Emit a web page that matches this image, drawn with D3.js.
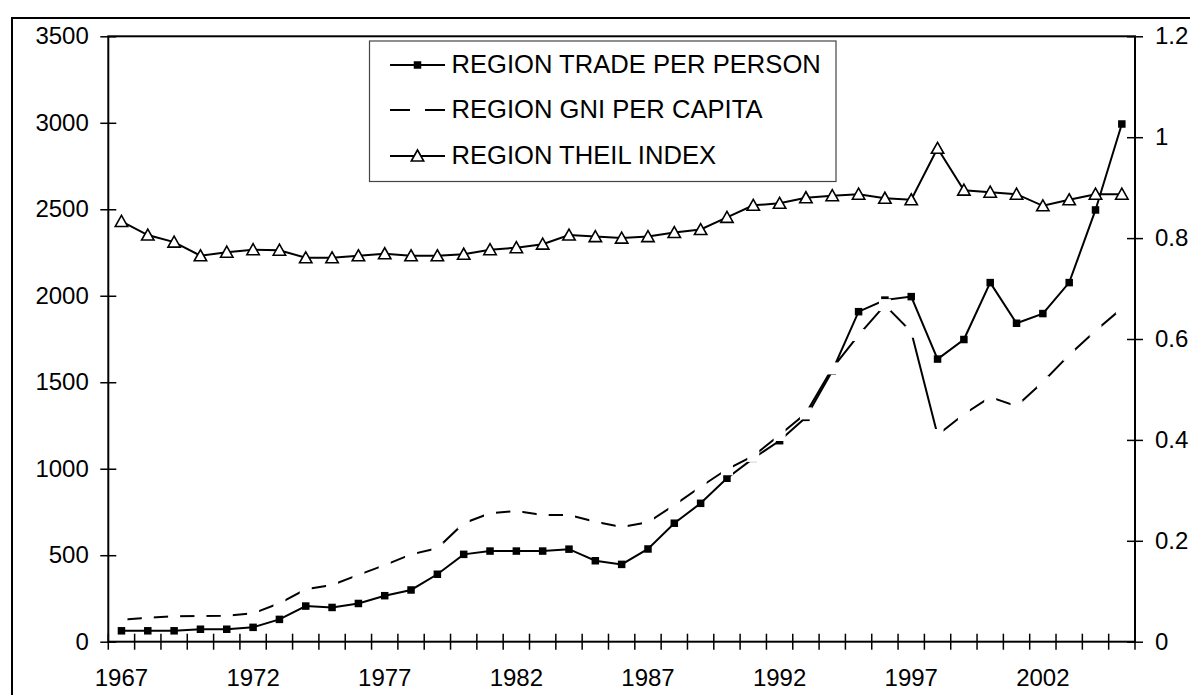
<!DOCTYPE html>
<html>
<head>
<meta charset="utf-8">
<script src="https://cdnjs.cloudflare.com/ajax/libs/d3/7.8.5/d3.min.js"></script>
<style>
  body { margin: 0; background: #fff; }
  svg { display: block; font-family: "Liberation Sans", Arial, sans-serif; }
</style>
</head>
<body>
<div id="chart"></div>
<script>
// data
var years = [1967, 1968, 1969, 1970, 1971, 1972, 1973, 1974, 1975, 1976,
             1977, 1978, 1979, 1980, 1981, 1982, 1983, 1984, 1985, 1986,
             1987, 1988, 1989, 1990, 1991, 1992, 1993, 1994, 1995, 1996,
             1997, 1998, 1999, 2000, 2001, 2002, 2003, 2004, 2005];
var tradePerPerson = [63, 63, 63, 72, 72, 83, 129, 206, 198, 221,
                      266, 299, 390, 505, 524, 524, 524, 535, 468, 447,
                      536, 685, 800, 945, 1060, 1162, 1297, 1565, 1908, 1975,
                      1995, 1634, 1747, 2076, 1841, 1897, 2076, 2496, 2993];
var gniPerCapita = [127, 139, 147, 149, 150, 164, 222, 303, 328, 386,
                    443, 505, 540, 685, 742, 756, 732, 732, 694, 663,
                    690, 790, 896, 997, 1074, 1195, 1320, 1580, 1773, 1946,
                    1792, 1195, 1315, 1414, 1362, 1501, 1658, 1798, 1927];
var theilIndex = [0.833, 0.806, 0.792, 0.765, 0.772, 0.777, 0.776, 0.761, 0.761, 0.765,
                  0.769, 0.765, 0.765, 0.768, 0.777, 0.781, 0.788, 0.806, 0.803, 0.800,
                  0.803, 0.811, 0.817, 0.841, 0.865, 0.869, 0.880, 0.884, 0.887, 0.879,
                  0.876, 0.978, 0.895, 0.891, 0.887, 0.864, 0.876, 0.887, 0.887];
var leftTicks = [0, 500, 1000, 1500, 2000, 2500, 3000, 3500];
var rightTicks = [0, 0.2, 0.4, 0.6, 0.8, 1, 1.2];
var xLabelYears = [1967, 1972, 1977, 1982, 1987, 1992, 1997, 2002];
var seriesNames = ['REGION TRADE PER PERSON', 'REGION GNI PER CAPITA', 'REGION THEIL INDEX'];

var W = 1190, H = 695;
var margin = {top: 36.3, left: 108.3, right: 55, bottom: 53.3};
var width = W - margin.left - margin.right,
    height = H - margin.top - margin.bottom;

var svg = d3.select('#chart')
  .append('svg')
  .attr('width', W)
  .attr('height', H);

// outer chart frame (cropped at right / bottom)
svg.append('rect')
  .attr('x', 12).attr('y', 18)
  .attr('width', 1400).attr('height', 900)
  .attr('fill', '#fff')
  .attr('stroke', '#000')
  .attr('stroke-width', 2);

var g = svg.append('g')
  .attr('transform', 'translate(' + margin.left + ',' + margin.top + ')');

var x = d3.scaleBand().domain(years).range([0, width]);
var xc = function(d) { return x(d) + x.bandwidth() / 2; };
var yL = d3.scaleLinear().domain([0, 3500]).range([height, 0]);
var yR = d3.scaleLinear().domain([0, 1.2]).range([height, 0]);

// plot area box
g.append('rect')
  .attr('width', width).attr('height', height)
  .attr('fill', 'none')
  .attr('stroke', '#000')
  .attr('stroke-width', 2);

// left axis
var left = g.append('g')
  .call(d3.axisLeft(yL).tickValues(leftTicks).tickSize(8).tickSizeOuter(0).tickFormat(d3.format('d')));
left.select('.domain').remove();
left.selectAll('line').attr('x1', 8).attr('stroke', '#000').attr('stroke-width', 1.5);
left.selectAll('text').attr('x', -19.5).attr('fill', '#000').style('font-size', '24px')
  .style('font-family', '"Liberation Sans", Arial, sans-serif');

// right axis
var right = g.append('g')
  .attr('transform', 'translate(' + width + ',0)')
  .call(d3.axisRight(yR).tickValues(rightTicks).tickSize(8).tickSizeOuter(0).tickFormat(function(d) { return String(d); }));
right.select('.domain').remove();
right.selectAll('line').attr('x1', -8).attr('stroke', '#000').attr('stroke-width', 1.5);
right.selectAll('text').attr('x', 20).attr('fill', '#000').style('font-size', '24px')
  .style('font-family', '"Liberation Sans", Arial, sans-serif');

// category ticks sit between the years
var bounds = years.map(function(d) { return x(d); }).concat([width]);
g.selectAll('.xtick')
  .data(bounds)
  .enter()
  .append('line')
  .attr('class', 'xtick')
  .attr('x1', function(d) { return d; })
  .attr('x2', function(d) { return d; })
  .attr('y1', height - 8)
  .attr('y2', height + 8)
  .attr('stroke', '#000')
  .attr('stroke-width', 1.5);

// Add the X Axis labels
var bottom = g.append('g')
  .attr('transform', 'translate(0,' + height + ')')
  .call(d3.axisBottom(x).tickValues(xLabelYears).tickSize(0));
bottom.select('.domain').remove();
bottom.selectAll('text').attr('y', 44).attr('dy', 0).attr('fill', '#000').style('font-size', '24px')
  .style('font-family', '"Liberation Sans", Arial, sans-serif');

var lineL = d3.line()
  .x(function(d, i) { return xc(years[i]); })
  .y(function(d) { return yL(d); });
var lineR = d3.line()
  .x(function(d, i) { return xc(years[i]); })
  .y(function(d) { return yR(d); });

// trade per person: solid line + black squares
g.append('path')
  .datum(tradePerPerson)
  .attr('d', lineL)
  .attr('fill', 'none')
  .attr('stroke', '#000')
  .attr('stroke-width', 2);
g.selectAll('.sq')
  .data(tradePerPerson)
  .enter()
  .append('rect')
  .attr('class', 'sq')
  .attr('x', function(d, i) { return xc(years[i]) - 3.75; })
  .attr('y', function(d) { return yL(d) - 3.75; })
  .attr('width', 7.5).attr('height', 7.5)
  .attr('fill', '#000');

// gni per capita: line broken by white markers
g.append('path')
  .datum(gniPerCapita)
  .attr('d', lineL)
  .attr('fill', 'none')
  .attr('stroke', '#000')
  .attr('stroke-width', 2);
g.selectAll('.wm')
  .data(gniPerCapita)
  .enter()
  .append('rect')
  .attr('class', 'wm')
  .attr('x', function(d, i) { return xc(years[i]) - 6; })
  .attr('y', function(d) { return yL(d) - 6; })
  .attr('width', 12).attr('height', 12)
  .attr('fill', '#fff');

// theil index on the right axis
var tri = 'M0,-6L6.2,5L-6.2,5Z';
g.append('path')
  .datum(theilIndex)
  .attr('d', lineR)
  .attr('fill', 'none')
  .attr('stroke', '#000')
  .attr('stroke-width', 2);
g.selectAll('.tri')
  .data(theilIndex)
  .enter()
  .append('path')
  .attr('class', 'tri')
  .attr('d', tri)
  .attr('transform', function(d, i) { return 'translate(' + xc(years[i]) + ',' + yR(d) + ')'; })
  .attr('fill', '#fff')
  .attr('stroke', '#000')
  .attr('stroke-width', 1.6);

// legend
var legend = svg.append('g');
legend.append('rect')
  .attr('x', 369.5).attr('y', 41)
  .attr('width', 466.5).attr('height', 140.5)
  .attr('fill', '#fff')
  .attr('stroke', '#444')
  .attr('stroke-width', 1.2);

var rowY = [65, 110, 156];
var items = legend.selectAll('.item')
  .data(seriesNames)
  .enter()
  .append('g')
  .attr('class', 'item')
  .attr('transform', function(d, i) { return 'translate(0,' + rowY[i] + ')'; });

items.append('line')
  .attr('x1', 390).attr('x2', 445)
  .attr('stroke', '#000')
  .attr('stroke-width', 2);

items.each(function(d, i) {
  var it = d3.select(this);
  if (i === 0) {
    it.append('rect').attr('x', 417.5 - 3.75).attr('y', -3.75).attr('width', 7.5).attr('height', 7.5).attr('fill', '#000');
  } else if (i === 1) {
    it.append('rect').attr('x', 417.5 - 7.5).attr('y', -6).attr('width', 15).attr('height', 12).attr('fill', '#fff');
  } else {
    it.append('path').attr('d', tri).attr('transform', 'translate(417.5,0)')
      .attr('fill', '#fff').attr('stroke', '#000').attr('stroke-width', 1.6);
  }
});

items.append('text')
  .attr('x', 451.5)
  .attr('dy', '0.32em')
  .style('font-size', '25.6px')
  .attr('fill', '#000')
  .text(function(d) { return d; });
</script>
</body>
</html>
